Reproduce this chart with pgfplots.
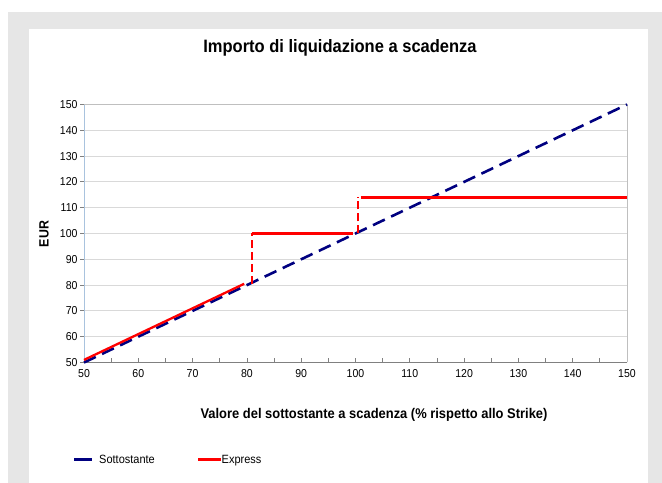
\documentclass[border=0pt]{standalone}
\usepackage{fontspec}
\setmainfont{Liberation Sans}[FakeStretch=0.92]
\usepackage{pgfplots}
\pgfplotsset{compat=1.18}
\definecolor{bg}{HTML}{E6E6E6}
\definecolor{navy}{HTML}{000080}
\definecolor{exred}{HTML}{FF0000}
\definecolor{gridc}{HTML}{D9D9D9}
\definecolor{framec}{HTML}{BFBFBF}
\definecolor{yax}{HTML}{A9C3DE}
\begin{document}
\begin{tikzpicture}[x=1bp,y=1bp]
\fill[white] (0,0) rectangle (662,483);
\fill[bg] (7.5,0) rectangle (662,470.5);
\fill[white] (29,0) rectangle (648,454);
\node[font=\bfseries\fontsize{18}{21}\selectfont] at (340,435) {Importo di liquidazione a scadenza};
\node[font=\bfseries\fontsize{14.1}{16}\selectfont] at (374,68) {Valore del sottostante a scadenza (\% rispetto allo Strike)};
\node[font=\bfseries\fontsize{13.5}{16}\selectfont, rotate=90] at (44,249) {EUR};
\draw[navy, line width=3bp] (74,23) -- (92,23);
\node[anchor=base west, inner sep=1bp, font=\fontsize{12}{14}\selectfont] at (98,19) {Sottostante};
\draw[exred, line width=3bp] (198,23) -- (221,23);
\node[anchor=base west, inner sep=0.5bp, font=\fontsize{12}{14}\selectfont] at (221,19) {Express};
\begin{axis}[
  at={(84bp,120.5bp)}, anchor=south west,
  scale only axis, width=543bp, height=258bp,
  xmin=50, xmax=150, ymin=50, ymax=150,
  axis x line*=bottom, axis y line*=left,
  x axis line style={draw=gray, line width=0.8bp, -},
  y axis line style={draw=yax, line width=0.8bp, -},
  xtick={50,60,...,150}, minor xtick={55,65,...,145},
  ytick={50,60,...,150},
  tick align=inside,
  major tick length=4bp, minor tick length=4bp,
  xtick style={draw=gray, line width=0.8bp},
  ytick style={draw=gray, line width=0.8bp, xshift=-4bp},
  ymajorgrids, grid style={draw=gridc, line width=0.8bp},
  tick label style={font=\fontsize{11.5}{13}\selectfont},
  /pgf/number format/assume math mode=true,
  xticklabel style={yshift=-3bp},
  yticklabel style={xshift=-3bp},
  clip=false,
]
\draw[framec, line width=1bp] (rel axis cs:0,1) -- (rel axis cs:1,1) -- (rel axis cs:1,0);
\addplot[navy, line width=2.6bp, dash pattern=on 13bp off 7bp] coordinates {(50,50) (150,150)};
\addplot[exred, line width=2.3bp] coordinates {(50,51) (79.5,80.5)};
\addplot[exred, line width=2.3bp] coordinates {(81,100) (99.5,100)};
\addplot[exred, line width=2.3bp] coordinates {(101,114) (150,114)};
\addplot[exred, line width=2bp, dash pattern=on 8bp off 4bp] coordinates {(81,80.5) (81,100)};
\addplot[exred, line width=2bp, dash pattern=on 8bp off 4bp] coordinates {(100.4,100) (100.4,114)};
\end{axis}
\end{tikzpicture}
\end{document}
